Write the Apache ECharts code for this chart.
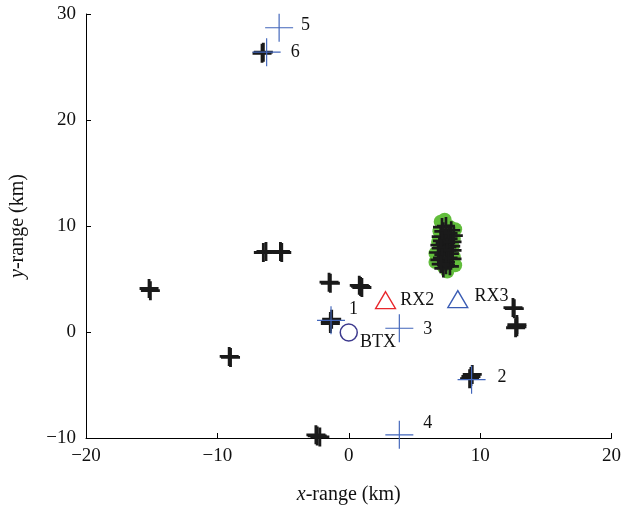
<!DOCTYPE html>
<html>
<head>
<meta charset="utf-8">
<script src="https://cdn.jsdelivr.net/npm/echarts@6/dist/echarts.min.js"></script>
<style>
  html, body { margin: 0; padding: 0; background: #fff; }
  #chart { width: 624px; height: 510px; }
</style>
</head>
<body>
<div id="chart"></div>
<script>
// tick values
var xTicks = [-20, -10, 0, 10, 20];
var yTicks = [-10, 0, 10, 20, 30];

// black "+" detections (x km, y km)
var detections = [
  [-15.2, 4.1], [-15.1, 3.9],
  [-9.1, -2.3], [-9.0, -2.4],
  [-6.5, 7.5], [-6.3, 7.6],
  [-5.2, 7.6], [-5.1, 7.5],
  [-1.4, 4.6], [-1.5, 4.7],
  [0.9, 4.3], [1.0, 4.2], [0.8, 4.4],
  [-1.4, 1.0], [-1.3, 1.2], [-1.4, 0.8],
  [-2.4, -9.8], [-2.2, -9.9], [-2.5, -9.7],
  [9.3, -4.2], [9.4, -4.0], [9.2, -4.4],
  [12.5, 2.3], [12.6, 2.2],
  [12.8, 0.5], [12.8, 0.7], [12.7, 0.4],
  [-6.6, 26.3], [-6.5, 26.4]
];

// dense cluster near RX3
var clusterGreen = [
  [7.0, 10.4], [7.3, 10.6], [8.1, 9.7], [7.7, 9.9], [6.9, 9.5], [7.4, 9.2],
  [8.0, 8.8], [6.8, 8.5], [7.2, 8.0], [7.9, 8.0], [6.6, 7.4], [7.3, 7.0],
  [8.0, 7.1], [6.6, 6.6], [7.2, 6.2], [7.5, 5.7], [8.1, 6.3], [7.7, 6.6]
];
var clusterBlack = [
  [7.1, 9.9], [7.4, 10.0], [7.8, 9.6], [7.0, 9.0], [7.6, 8.8], [8.0, 9.1],
  [6.9, 8.2], [7.3, 8.4], [7.8, 8.1], [6.8, 7.5], [7.2, 7.3], [7.7, 7.4],
  [6.9, 6.8], [7.4, 6.6], [7.9, 6.9], [7.2, 6.0], [7.7, 6.2],
  [7.2, 9.5], [7.6, 9.3], [7.1, 8.6], [7.5, 8.0], [7.0, 7.9], [7.5, 7.7],
  [7.1, 7.0], [7.6, 7.0], [7.4, 6.3], [7.0, 6.4], [7.9, 7.7], [7.9, 8.5]
];

// numbered true targets
var targets = [
  [-1.35, 1.1, '1'], [9.35, -4.5, '2'], [3.85, 0.35, '3'],
  [3.85, -9.7, '4'], [-5.3, 28.7, '5'], [-6.25, 26.4, '6']
];

var btx = [[0, -0.05, 'BTX']];
var rx2 = [[2.8, 3.0, 'RX2']];
var rx3 = [[8.3, 3.1, 'RX3']];

var font = 'Liberation Serif';
var labelOffsets = { '1': [-4, -11], '2': [4, -2], '3': [2, 1], '4': [2, -12], '5': [0, -3], '6': [2, 0] };

var thickCross = 'path://M8.5,0h3v8.5h8.5v3h-8.5v8.5h-3v-8.5h-8.5v-3h8.5z';
var thinCross = 'path://M11.5,0h1v11.5h11.5v1h-11.5v11.5h-1v-11.5h-11.5v-1h11.5z';

function minus(v) { return String(v).replace('-', '\u2212'); }

var chart = echarts.init(document.getElementById('chart'));
chart.setOption({
  animation: false,
  textStyle: { fontFamily: font },
  grid: { left: 84, right: 10, top: 14, bottom: 72 },
  xAxis: {
    type: 'value', min: xTicks[0], max: xTicks[xTicks.length - 1], interval: 10,
    splitLine: { show: false },
    axisLine: { onZero: false, lineStyle: { color: '#000', width: 1 } },
    axisTick: { inside: true, length: 5, lineStyle: { color: '#000' } },
    axisLabel: { color: '#111', fontSize: 19, fontFamily: font, margin: 9, formatter: minus },
    name: '{i|x}-range (km)', nameLocation: 'middle', nameGap: 47,
    nameTextStyle: { color: '#111', fontSize: 20, fontFamily: font,
      rich: { i: { fontStyle: 'italic', fontSize: 20, fontFamily: font, color: '#111' } } }
  },
  yAxis: {
    type: 'value', min: yTicks[0], max: yTicks[yTicks.length - 1], interval: 10,
    splitLine: { show: false },
    axisLine: { onZero: false, lineStyle: { color: '#000', width: 1 } },
    axisTick: { inside: true, length: 5, lineStyle: { color: '#000' } },
    axisLabel: { color: '#111', fontSize: 19, fontFamily: font, margin: 10, formatter: minus },
    name: '{i|y}-range (km)', nameLocation: 'middle', nameGap: 58,
    nameTextStyle: { color: '#111', fontSize: 20, fontFamily: font,
      rich: { i: { fontStyle: 'italic', fontSize: 20, fontFamily: font, color: '#111' } } }
  },
  series: [
    {
      type: 'scatter', data: clusterGreen, symbol: 'circle', symbolSize: 14,
      itemStyle: { color: '#62bd3c', opacity: 1 }, z: 2
    },
    {
      type: 'scatter', data: clusterBlack, symbol: thickCross, symbolSize: 18,
      itemStyle: { color: '#1a1a1a', opacity: 1 }, z: 3
    },
    {
      type: 'scatter', data: detections, symbol: thickCross, symbolSize: 19,
      itemStyle: { color: '#1a1a1a', opacity: 1 }, z: 3
    },
    {
      type: 'scatter', z: 4, symbol: thinCross, symbolSize: 28,
      itemStyle: { color: '#4266bb', opacity: 1 },
      data: targets.map(function (t) {
        return {
          value: [t[0], t[1]],
          label: { show: true, formatter: t[2], position: 'right', distance: 8,
            offset: labelOffsets[t[2]], color: '#111', fontSize: 18, fontFamily: font }
        };
      })
    },
    {
      type: 'scatter', z: 4, symbol: 'circle', symbolSize: 17,
      itemStyle: { color: 'rgba(0,0,0,0)', borderColor: '#3d3a8e', borderWidth: 1.5, opacity: 1 },
      data: btx.map(function (t) { return { value: [t[0], t[1]], name: t[2] }; }),
      label: { show: true, formatter: '{b}', position: 'right', distance: 2, offset: [0, 10],
        color: '#111', fontSize: 18, fontFamily: font }
    },
    {
      type: 'scatter', z: 4, symbol: 'triangle', symbolSize: [20, 17],
      itemStyle: { color: 'rgba(0,0,0,0)', borderColor: '#e8262b', borderWidth: 1.3, opacity: 1 },
      data: rx2.map(function (t) { return { value: [t[0], t[1]], name: t[2] }; }),
      label: { show: true, formatter: '{b}', position: 'right', distance: 4, offset: [0, 0],
        color: '#111', fontSize: 18, fontFamily: font }
    },
    {
      type: 'scatter', z: 4, symbol: 'triangle', symbolSize: [20, 17],
      itemStyle: { color: 'rgba(0,0,0,0)', borderColor: '#3a5cb4', borderWidth: 1.3, opacity: 1 },
      data: rx3.map(function (t) { return { value: [t[0], t[1]], name: t[2] }; }),
      label: { show: true, formatter: '{b}', position: 'right', distance: 6, offset: [0, -3],
        color: '#111', fontSize: 18, fontFamily: font }
    }
  ]
});
</script>
</body>
</html>
